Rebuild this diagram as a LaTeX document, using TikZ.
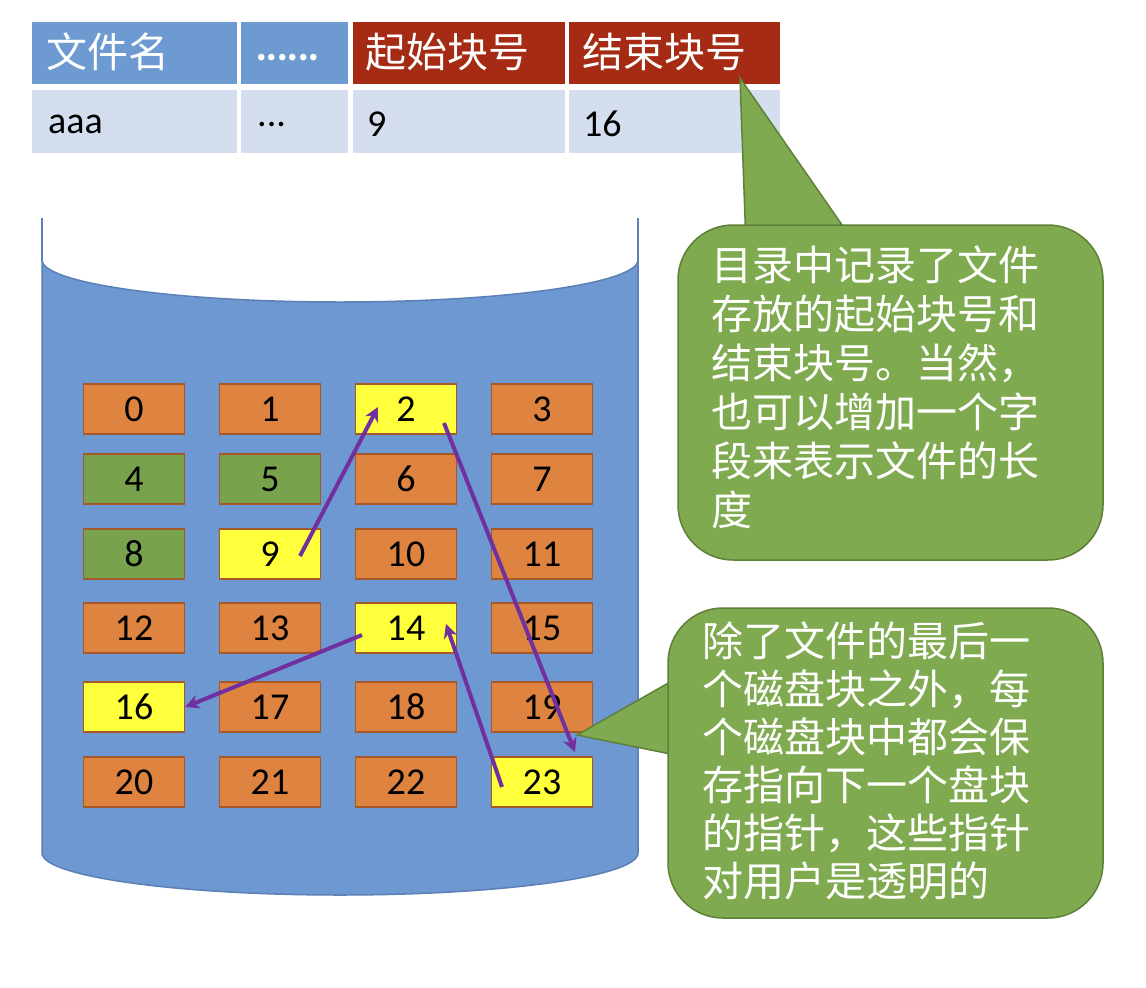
\documentclass[tikz,border=0pt]{standalone}
\usepackage{fontspec}
\usetikzlibrary{arrows.meta}
\setmainfont{Carlito}
\newfontfamily\cjk{Noto Sans CJK SC}
\definecolor{hblue}{HTML}{6D9BD1}
\definecolor{hred}{HTML}{A52B14}
\definecolor{lblue}{HTML}{D5DEEE}
\definecolor{cyl}{HTML}{6E98D1}
\definecolor{cylb}{HTML}{5A80B6}
\definecolor{org}{HTML}{DE8340}
\definecolor{grn}{HTML}{78A24C}
\definecolor{yel}{HTML}{FFFF3C}
\definecolor{blkb}{HTML}{A5582A}
\definecolor{cg}{HTML}{80AA50}
\definecolor{cgb}{HTML}{5E8038}
\definecolor{pur}{HTML}{7030A0}
\begin{document}
\begin{tikzpicture}[x=1pt,y=-1pt,
 cell/.style={anchor=west,inner sep=0pt,font=\fontsize{38}{38}\selectfont},
 blk/.style={draw=blkb,line width=1.5pt,minimum width=101pt,minimum height=50pt,inner sep=0pt,font=\fontsize{38}{38}\selectfont},
 arr/.style={pur,line width=4pt,-{Stealth[length=14pt,width=14pt]}},
 ct/.style={anchor=north west,align=left,inner sep=0pt,font=\cjk\fontsize{41}{49}\selectfont}]
\useasboundingbox (0,0) rectangle (1146,988);
% table
\fill[hblue] (32,22) rectangle (237,84);
\fill[hblue] (241,22) rectangle (348,84);
\fill[hred] (353,22) rectangle (565,84);
\fill[hred] (569,22) rectangle (780,84);
\fill[lblue] (32,90) rectangle (237,153);
\fill[lblue] (241,90) rectangle (348,153);
\fill[lblue] (353,90) rectangle (565,153);
\fill[lblue] (569,90) rectangle (780,153);
\node[cell,white,font=\cjk\fontsize{41}{41}\selectfont] (h1) at (46,52) {文件名};
\node[cell,white,font=\cjk\bfseries\fontsize{30}{30}\selectfont] (h2) at (256,58) {......};
\node[cell,white,font=\cjk\fontsize{41}{41}\selectfont] (h3) at (365,52) {起始块号};
\node[cell,white,font=\cjk\fontsize{41}{41}\selectfont] (h4) at (582,52) {结束块号};
\node[cell] (r1) at (48,124) {aaa};
\node[cell] (r2) at (257,124) {...};
\node[cell] (r3) at (367,124) {9};
\node[cell] (r4) at (583,124) {16};
% cylinder
\filldraw[fill=cyl,draw=cylb,line width=1.5pt] (42,260) -- (42,853) arc[start angle=180,end angle=0,x radius=298,y radius=42] -- (638,260) arc[start angle=0,end angle=-180,x radius=298,y radius=42] -- cycle;
\fill[white] (40,214) rectangle (640,260);
\filldraw[fill=white,draw=cylb,line width=1.5pt] (42,260) arc[start angle=180,end angle=0,x radius=298,y radius=42];
\draw[cylb,line width=1.5pt] (42,218) -- (42,260) (638,218) -- (638,260);
% blocks
\foreach \n/\c/\col/\row in {0/org/0/0,1/org/1/0,2/yel/2/0,3/org/3/0,4/grn/0/1,5/grn/1/1,6/org/2/1,7/org/3/1,8/grn/0/2,9/yel/1/2,10/org/2/2,11/org/3/2,12/org/0/3,13/org/1/3,14/yel/2/3,15/org/3/3,16/yel/0/4,17/org/1/4,18/org/2/4,19/org/3/4,20/org/0/5,21/org/1/5,22/org/2/5,23/yel/3/5}{
 \pgfmathsetmacro\yy{{409,479,554,628,707,782}[\row]}
 \node[blk,fill=\c] (b\n) at (134+136*\col,\yy) {\n};
}
\draw[arr] ([shift={(30pt,-2pt)}]b9.center) -- ([shift={(-28pt,2pt)}]b2.center);
\draw[arr] ([shift={(38pt,-14pt)}]b2.center) -- ([shift={(33pt,30pt)}]b23.center);
\draw[arr] ([shift={(-40pt,-5pt)}]b23.center) -- ([shift={(40pt,4pt)}]b14.center);
\draw[arr] ([shift={(-44pt,-7pt)}]b14.center) -- (b16.east);
% callouts
\coordinate (t1) at (740,78);
\coordinate (t2) at (577,735);
\filldraw[fill=cg,draw=cgb,line width=1.5pt] (t1) -- (746,245) -- (856,245) -- cycle;
\filldraw[fill=cg,draw=cgb,line width=1.5pt,rounded corners=55pt] (678,225) rectangle (1103,560);
\filldraw[fill=cg,draw=cgb,line width=1.5pt] (t2) -- (700,665) -- (700,760) -- cycle;
\filldraw[fill=cg,draw=cgb,line width=1.5pt,rounded corners=55pt] (668,608) rectangle (1103,918);
\fill[cg] (690,668) rectangle (705,757);
\node[ct,white] (c1) at (711,246) {目录中记录了文件\\存放的起始块号和\\结束块号。当然，\\也可以增加一个字\\段来表示文件的长\\度};
\node[ct,white,font=\cjk\fontsize{41}{48}\selectfont] (c2) at (702,622) {除了文件的最后一\\个磁盘块之外，每\\个磁盘块中都会保\\存指向下一个盘块\\的指针，这些指针\\对用户是透明的};
\end{tikzpicture}
\end{document}
